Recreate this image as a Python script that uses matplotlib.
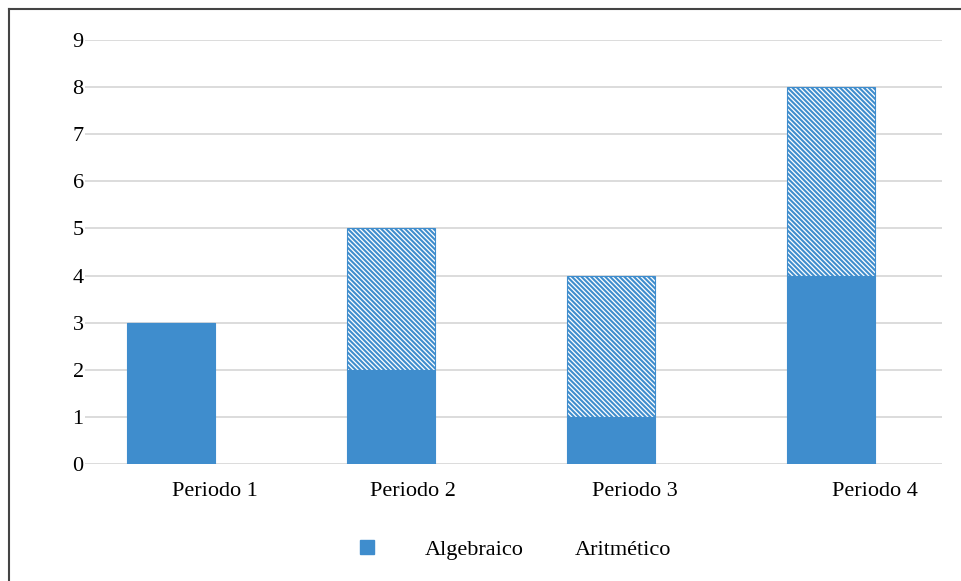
import numpy as np
import matplotlib
matplotlib.use("Agg")
import matplotlib.pyplot as plt
from matplotlib.patches import Patch
from matplotlib.lines import Line2D

# data
periodos = ["Periodo 1", "Periodo 2", "Periodo 3", "Periodo 4"]
algebraico = [3, 2, 1, 4]
aritmetico = [0, 3, 3, 4]
yticks = list(range(0, 10))

blue = "#3f8dcd"
plt.rcParams["font.family"] = ["Liberation Serif", "DejaVu Serif"]
plt.rcParams["hatch.linewidth"] = 1.5

fig = plt.figure(figsize=(9.62, 5.81), dpi=100)
ax = fig.add_axes([0.0884, 0.2014, 0.891, 0.7298])

x = np.arange(len(periodos))
ax.bar(x, algebraico, width=0.4, color=blue, edgecolor=blue, linewidth=0.8, zorder=3)
ax.bar(x, aritmetico, width=0.4, bottom=algebraico, facecolor="white",
       edgecolor=blue, hatch="\\" * 7, linewidth=0.8, zorder=3)

ax.set_xlim(-0.39, 3.505)
ax.set_ylim(0, 9)
ax.set_yticks(yticks)
# category labels sit a little right of the bars
ax.set_xticks(x + np.array([0.2, 0.1, 0.11, 0.2]))
ax.set_xticklabels(periodos)
ax.tick_params(axis="both", length=0, labelsize=16, colors="#000000")
ax.tick_params(axis="y", pad=1)
ax.tick_params(axis="x", pad=13)
ax.grid(axis="y", color="#dcdcdc", linewidth=1.4, zorder=0)
for s in ax.spines.values():
    s.set_visible(False)

# legend: second entry has no visible swatch
handles = [Patch(facecolor=blue, edgecolor=blue),
           Patch(facecolor="none", edgecolor="none")]
fig.legend(handles, ["Algebraico", "Aritmético"], loc="center",
           bbox_to_anchor=(0.536, 0.053), ncol=2, frameon=False, fontsize=16,
           handlelength=0.6, handleheight=0.6, handletextpad=2.3,
           columnspacing=-0.6)

# outer frame (left and top edges)
fig.add_artist(Line2D([8.5 / 962, 8.5 / 962], [0, 1 - 8.5 / 581],
                      transform=fig.transFigure, color="#444444", linewidth=1.5))
fig.add_artist(Line2D([8.5 / 962, 1], [1 - 8.5 / 581, 1 - 8.5 / 581],
                      transform=fig.transFigure, color="#444444", linewidth=1.5))

fig.savefig("out.png", dpi=100)
